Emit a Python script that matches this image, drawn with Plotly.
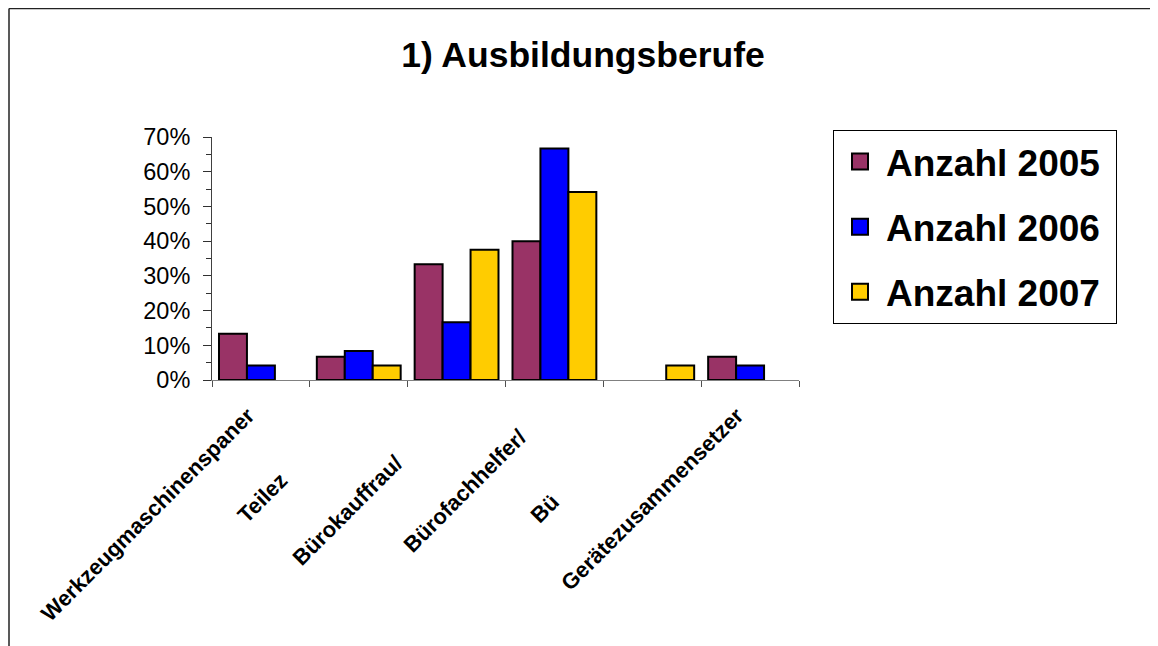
import plotly.graph_objects as go

NB = "\u00a0"
categories = [
    "Werkzeugmaschinenspaner" + NB * 3,
    "Teilez" + NB * 18,
    "Bürokauffrau/" + NB * 14,
    "Bürofachhelfer/" + NB * 8,
    "Bü" + NB * 23,
    "Gerätezusammensetzer" + NB * 3,
]
series_names = ["Anzahl 2005", "Anzahl 2006", "Anzahl 2007"]
anzahl_2005 = [0.1333, 0.0667, 0.3333, 0.40, 0.0, 0.0667]
anzahl_2006 = [0.0417, 0.0833, 0.1667, 0.6667, 0.0, 0.0417]
anzahl_2007 = [0.0, 0.0417, 0.375, 0.5417, 0.0417, 0.0]
colors = ["#993366", "#0000FF", "#FFCC00"]
title_text = "1) Ausbildungsberufe"

FONT = "Liberation Sans, Arial, sans-serif"
OFF = 8  # page body margin
W, H = 1158 - OFF, 646 - OFF
ML, MT = 212 - OFF, 137 - OFF
PW, PH = 587, 243
MR, MB = W - ML - PW, H - MT - PH

fig = go.Figure()
for name, vals, col in zip(series_names, [anzahl_2005, anzahl_2006, anzahl_2007], colors):
    fig.add_trace(go.Bar(
        x=categories, y=[v if v > 0 else None for v in vals], name=name, showlegend=False,
        marker=dict(color=col, line=dict(color="black", width=2)),
    ))
# legend entries (square markers)
for i, (name, col) in enumerate(zip(series_names, colors)):
    fig.add_trace(go.Scatter(
        x=[None], y=[None], mode="markers", name=name + NB, legendgroup=f"g{i}",
        marker=dict(symbol="square", size=16, color=col, line=dict(color="black", width=2)),
    ))

def px_x(px):  # screen px -> paper x
    return (px - OFF - ML) / PW

def px_y(py):  # screen px -> paper y
    return (MT + PH - (py - OFF)) / PH

# outer chart frame (left and top edges visible)
fig.add_shape(type="line", xref="paper", yref="paper",
              x0=px_x(9), x1=px_x(9), y0=px_y(660), y1=px_y(8.5),
              line=dict(color="#222222", width=1.5))
fig.add_shape(type="line", xref="paper", yref="paper",
              x0=px_x(9), x1=px_x(1170), y0=px_y(8.5), y1=px_y(8.5),
              line=dict(color="#222222", width=1.5))

fig.update_layout(
    width=W, height=H,
    margin=dict(l=ML, r=MR, t=MT, b=MB, autoexpand=False),
    paper_bgcolor="white", plot_bgcolor="white",
    barmode="group", bargap=0.143, bargroupgap=0,
    title=dict(text=title_text, x=0.5, xanchor="center", y=1 - (55 - OFF) / H, yanchor="middle",
               font=dict(family=FONT, size=35.5, color="black", weight="bold")),
    legend=dict(
        x=px_x(833), xanchor="left",
        y=px_y(130), yanchor="top",
        bordercolor="black", borderwidth=1, bgcolor="white",
        font=dict(family=FONT, size=37, color="black", weight="bold"),
        tracegroupgap=14, traceorder="grouped", itemwidth=42,
    ),
    xaxis=dict(
        showline=True, linecolor="#808080", linewidth=1,
        ticks="outside", tickson="boundaries", ticklen=6, tickcolor="#505050",
        tickangle=-45, showgrid=False,
        tickfont=dict(family=FONT, size=22, color="black", weight="bold"),
    ),
    yaxis=dict(
        range=[0, 0.7], dtick=0.1, tickformat=".0%",
        showline=True, linecolor="#404040", linewidth=1,
        ticks="outside", ticklen=8, tickcolor="#303030", showgrid=False, zeroline=False,
        minor=dict(dtick=0.05, ticks="outside", ticklen=5, tickcolor="#303030", showgrid=False),
        tickfont=dict(family=FONT, size=23.5, color="black"),
        ticklabelstandoff=8,
    ),
)

fig.write_html("out.html")
